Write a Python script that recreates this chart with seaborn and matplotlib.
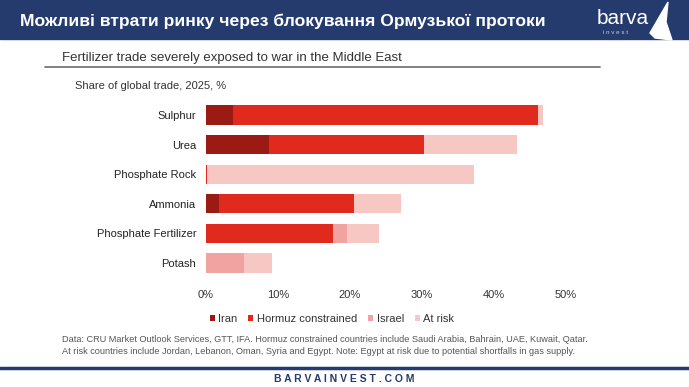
import numpy as np
import pandas as pd
import matplotlib
matplotlib.use("Agg")
import matplotlib.pyplot as plt
from matplotlib.patches import Rectangle, Polygon
import seaborn as sns

# data (share of global trade, 2025, %)
products = ["Sulphur", "Urea", "Phosphate Rock", "Ammonia", "Phosphate Fertilizer", "Potash"]
iran = [3.7, 8.8, 0.0, 1.8, 0.0, 0.0]
hormuz = [42.4, 21.5, 0.2, 18.8, 17.6, 0.0]
israel = [0.0, 0.0, 0.0, 0.0, 2.0, 5.3]
at_risk = [0.7, 12.9, 37.0, 6.5, 4.4, 3.9]
groups = ["Iran", "Hormuz constrained", "Israel", "At risk"]
colors = ["#9b1b14", "#e02a1e", "#f0a3a1", "#f7c7c4"]
xticks = [0, 10, 20, 30, 40, 50]

W, H = 689, 387
sns.set_theme(style="white")
plt.rcParams["font.family"] = ["Liberation Sans", "DejaVu Sans"]

fig = plt.figure(figsize=(W / 100, H / 100), dpi=100)
fig.patch.set_facecolor("white")

def px(x, y):
    return x / W, 1 - y / H

# header banner
fig.patches.append(Rectangle((0, 1 - 39 / H), 1, 39 / H, transform=fig.transFigure,
                             color="#253b6e", zorder=0))
fig.text(*px(20, 21), "Можливі втрати ринку через блокування Ормузької протоки",
         color="white", fontsize=12.6, fontweight="bold", va="center", ha="left")
# logo
fig.text(*px(597, 18), "barva", color="white", fontsize=15, va="center", ha="left")
fig.text(*px(603, 32), "i n v e s t", color="#c8d0e0", fontsize=4.5, va="center", ha="left")
sail = [px(650, 33), px(668, 2), px(666, 22), px(672, 40), px(655, 38)]
fig.patches.append(Polygon(sail, closed=True, transform=fig.transFigure, color="white", zorder=1))

# subtitle + rule
fig.text(*px(62, 58), "Fertilizer trade severely exposed to war in the Middle East",
         color="#333333", fontsize=9.5, va="center", ha="left")
fig.add_artist(plt.Line2D([45 / W, 600 / W], [1 - 67 / H] * 2, color="#777777", lw=1.3))
fig.text(*px(75, 86), "Share of global trade, 2025, %", color="#333333", fontsize=8,
         va="center", ha="left")

# chart axes
left, right, top, bottom = 206, 566, 100.2, 277.8
ax = fig.add_axes([left / W, 1 - bottom / H, (right - left) / W, (bottom - top) / H])

df = pd.DataFrame({"product": products, "Iran": iran, "Hormuz constrained": hormuz,
                   "Israel": israel, "At risk": at_risk})
cum = df[groups].cumsum(axis=1)
# stacked bars: draw cumulative totals from the outside in
for g, c in reversed(list(zip(groups, colors))):
    sns.barplot(x=cum[g], y=df["product"], color=c, width=0.65, orient="h",
                saturation=1, linewidth=0, edgecolor="none", ax=ax, label=g)

ax.set_xlim(0, 50)
ax.set_ylim(5.5, -0.5)
ax.set_xticks(xticks)
ax.set_xticklabels([f"{t}%" for t in xticks])
ax.set_xlabel("")
ax.set_ylabel("")
ax.tick_params(axis="x", length=0, pad=9, labelsize=8, labelcolor="#333333")
ax.tick_params(axis="y", length=0, pad=7, labelsize=8, labelcolor="#222222")
for s in ax.spines.values():
    s.set_visible(False)
ax.set_facecolor("white")
ax.grid(False)

handles, labels = ax.get_legend_handles_labels()
order = [labels.index(g) for g in groups]
leg = fig.legend([handles[i] for i in order], [labels[i] for i in order],
                 loc="center", bbox_to_anchor=px(332, 319), ncol=4, frameon=False,
                 fontsize=8, handlelength=0.45, handleheight=0.45, handletextpad=0.3,
                 columnspacing=1.0)
for t in leg.get_texts():
    t.set_color("#333333")
if ax.get_legend():
    ax.get_legend().remove()

# source note
fig.text(*px(62, 340), "Data: CRU Market Outlook Services, GTT, IFA. Hormuz constrained countries include "
         "Saudi Arabia, Bahrain, UAE, Kuwait, Qatar.", color="#555555", fontsize=6.6,
         va="center", ha="left")
fig.text(*px(62, 352), "At risk countries include Jordan, Lebanon, Oman, Syria and Egypt. Note: Egypt at "
         "risk due to potential shortfalls in gas supply.", color="#555555", fontsize=6.6,
         va="center", ha="left")

# footer
fig.add_artist(plt.Line2D([0, 1], [1 - 368 / H] * 2, color="#253b6e", lw=2.5))
fig.text(*px(344, 379), "B A R V A I N V E S T . C O M", color="#253b6e", fontsize=7.5,
         fontweight="bold", va="center", ha="center")

fig.savefig("out.png", dpi=100)
